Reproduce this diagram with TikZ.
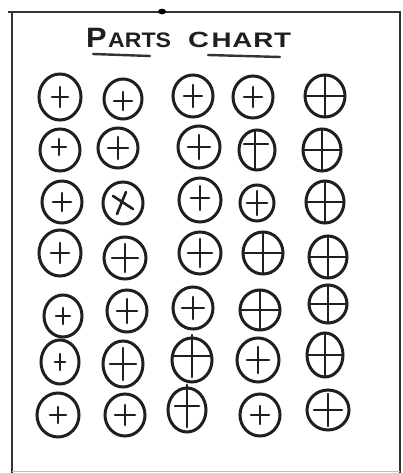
\documentclass[tikz,border=0pt]{standalone}
\usepackage{fontspec}
\setmainfont{Liberation Sans}
\newfontfamily\ttlA[FakeStretch=1.1]{Liberation Sans}
\newfontfamily\ttlB[FakeStretch=1.32, LetterSpace=4]{Liberation Sans}
\usetikzlibrary{shapes.geometric}
\tikzset{
  part/.style={ellipse, draw=black!88, line width=3pt, inner sep=0pt},
  crs/.style={draw=black!88, line width=2.6pt, line cap=round},
  frameline/.style={draw=black!80, line width=2.4pt},
  uline/.style={draw=black!80, line width=2.4pt, line cap=round},
  ttl/.style={inner sep=0pt, anchor=base west, text=black!88}
}
% name, x, y, w, h, half vertical, half horizontal, dx, dy
\newcommand\prt[9]{%
  \node[part, minimum width=#4pt, minimum height=#5pt] (#1) at (#2,#3) {};
  \draw[crs] ({#2+#8-#7},{#3+#9}) -- ({#2+#8+#7},{#3+#9})
             ({#2+#8},{#3+#9-#6}) -- ({#2+#8},{#3+#9+#6});}
\begin{document}
\begin{tikzpicture}[x=1pt,y=-1pt]
\useasboundingbox (0,0) rectangle (403,473);
\fill[white] (0,0) rectangle (403,473);
% frame
\coordinate (ftl) at (8,12);
\coordinate (ftr) at (400,12);
\coordinate (fl) at (12,12);
\coordinate (flb) at (12,473);
\coordinate (frb) at (400,473);
\draw[frameline] (ftl) -- (ftr) -- (frb);
\draw[frameline] (fl) -- (flb);
\draw[black!25, line width=1pt] (12,471) -- (400,471);
\fill[black] (162,11.5) ellipse (4 and 2.8);
% title
\node[ttl, font=\ttlA\bfseries\fontsize{28}{28}\selectfont] (tp) at (86,48) {P};
\node[ttl, font=\ttlA\bfseries\fontsize{21}{21}\selectfont] (tarts) at ([xshift=1pt]tp.base east) {ARTS};
\node[ttl, font=\ttlB\bfseries\fontsize{22}{22}\selectfont] (tc) at (188,48) {C};
\node[ttl, font=\ttlB\bfseries\fontsize{21}{21}\selectfont] (thart) at ([xshift=2pt]tc.base east) {HART};
\coordinate (u1a) at (93,54);  \coordinate (u1b) at (150,56);
\coordinate (u2a) at (208,55); \coordinate (u2b) at (280,57);
\draw[uline] (u1a) -- (u1b);
\draw[uline] (u2a) -- (u2b);
% row 1
\prt{p11}{60}{97}{42}{46}{10}{8}{0}{0}
\prt{p12}{123}{99}{38}{40}{9}{9}{0}{2}
\prt{p13}{193}{96}{40}{42}{11}{9}{0}{0}
\prt{p14}{253}{97}{40}{42}{10}{9}{0}{0}
\prt{p15}{325}{96}{40}{42}{20}{19}{0}{0}
% row 2
\prt{p21}{60}{150}{40}{42}{8}{7}{-1}{-3}
\prt{p22}{118}{148}{40}{40}{11}{10}{0}{0}
\prt{p23}{199}{147}{42}{42}{12}{11}{0}{0}
\node[part, minimum width=36pt, minimum height=40pt] (p24) at (257,150) {};
\draw[crs] (244,144) -- (268,144) (255,131) -- (255,169);
\prt{p25}{322}{150}{38}{42}{20}{18}{0}{0}
% row 3
\prt{p31}{62}{202}{40}{42}{9}{9}{0}{0}
\node[part, minimum width=40pt, minimum height=42pt] (p32) at (123,203) {};
\draw[crs] (113,196) -- (133,209) (126,192) -- (117,214);
\prt{p33}{200}{200}{42}{44}{12}{9}{0}{-2}
\prt{p34}{257}{203}{34}{36}{12}{10}{0}{0}
\prt{p35}{325}{202}{38}{42}{20}{19}{0}{0}
% row 4
\prt{p41}{60}{253}{42}{46}{10}{9}{0}{0}
\prt{p42}{125}{258}{42}{42}{14}{13}{0}{0}
\prt{p43}{200}{253}{42}{42}{14}{12}{0}{0}
\prt{p44}{263}{253}{40}{42}{20}{19}{0}{0}
\prt{p45}{328}{257}{38}{42}{20}{18}{0}{0}
% row 5
\prt{p51}{63}{316}{38}{42}{8}{7}{0}{0}
\prt{p52}{127}{311}{40}{42}{12}{10}{0}{0}
\prt{p53}{193}{308}{40}{42}{11}{11}{0}{0}
\prt{p54}{260}{310}{40}{40}{19}{19}{0}{0}
\prt{p55}{328}{304}{38}{38}{18}{18}{0}{0}
% row 6
\prt{p61}{60}{362}{38}{44}{8}{5}{0}{0}
\prt{p62}{123}{364}{40}{46}{16}{13}{0}{0}
\prt{p63}{192}{360}{40}{44}{21}{19}{0}{-4}
\prt{p64}{258}{360}{42}{44}{13}{11}{0}{0}
\prt{p65}{325}{355}{36}{44}{21}{17}{0}{0}
% row 7
\prt{p71}{58}{415}{42}{44}{8}{8}{0}{0}
\prt{p72}{125}{415}{40}{42}{10}{10}{0}{0}
\prt{p73}{187}{410}{38}{44}{21}{12}{0}{-4}
\prt{p74}{260}{415}{40}{42}{9}{9}{0}{0}
\prt{p75}{328}{410}{42}{40}{16}{14}{0}{0}
\end{tikzpicture}
\end{document}
